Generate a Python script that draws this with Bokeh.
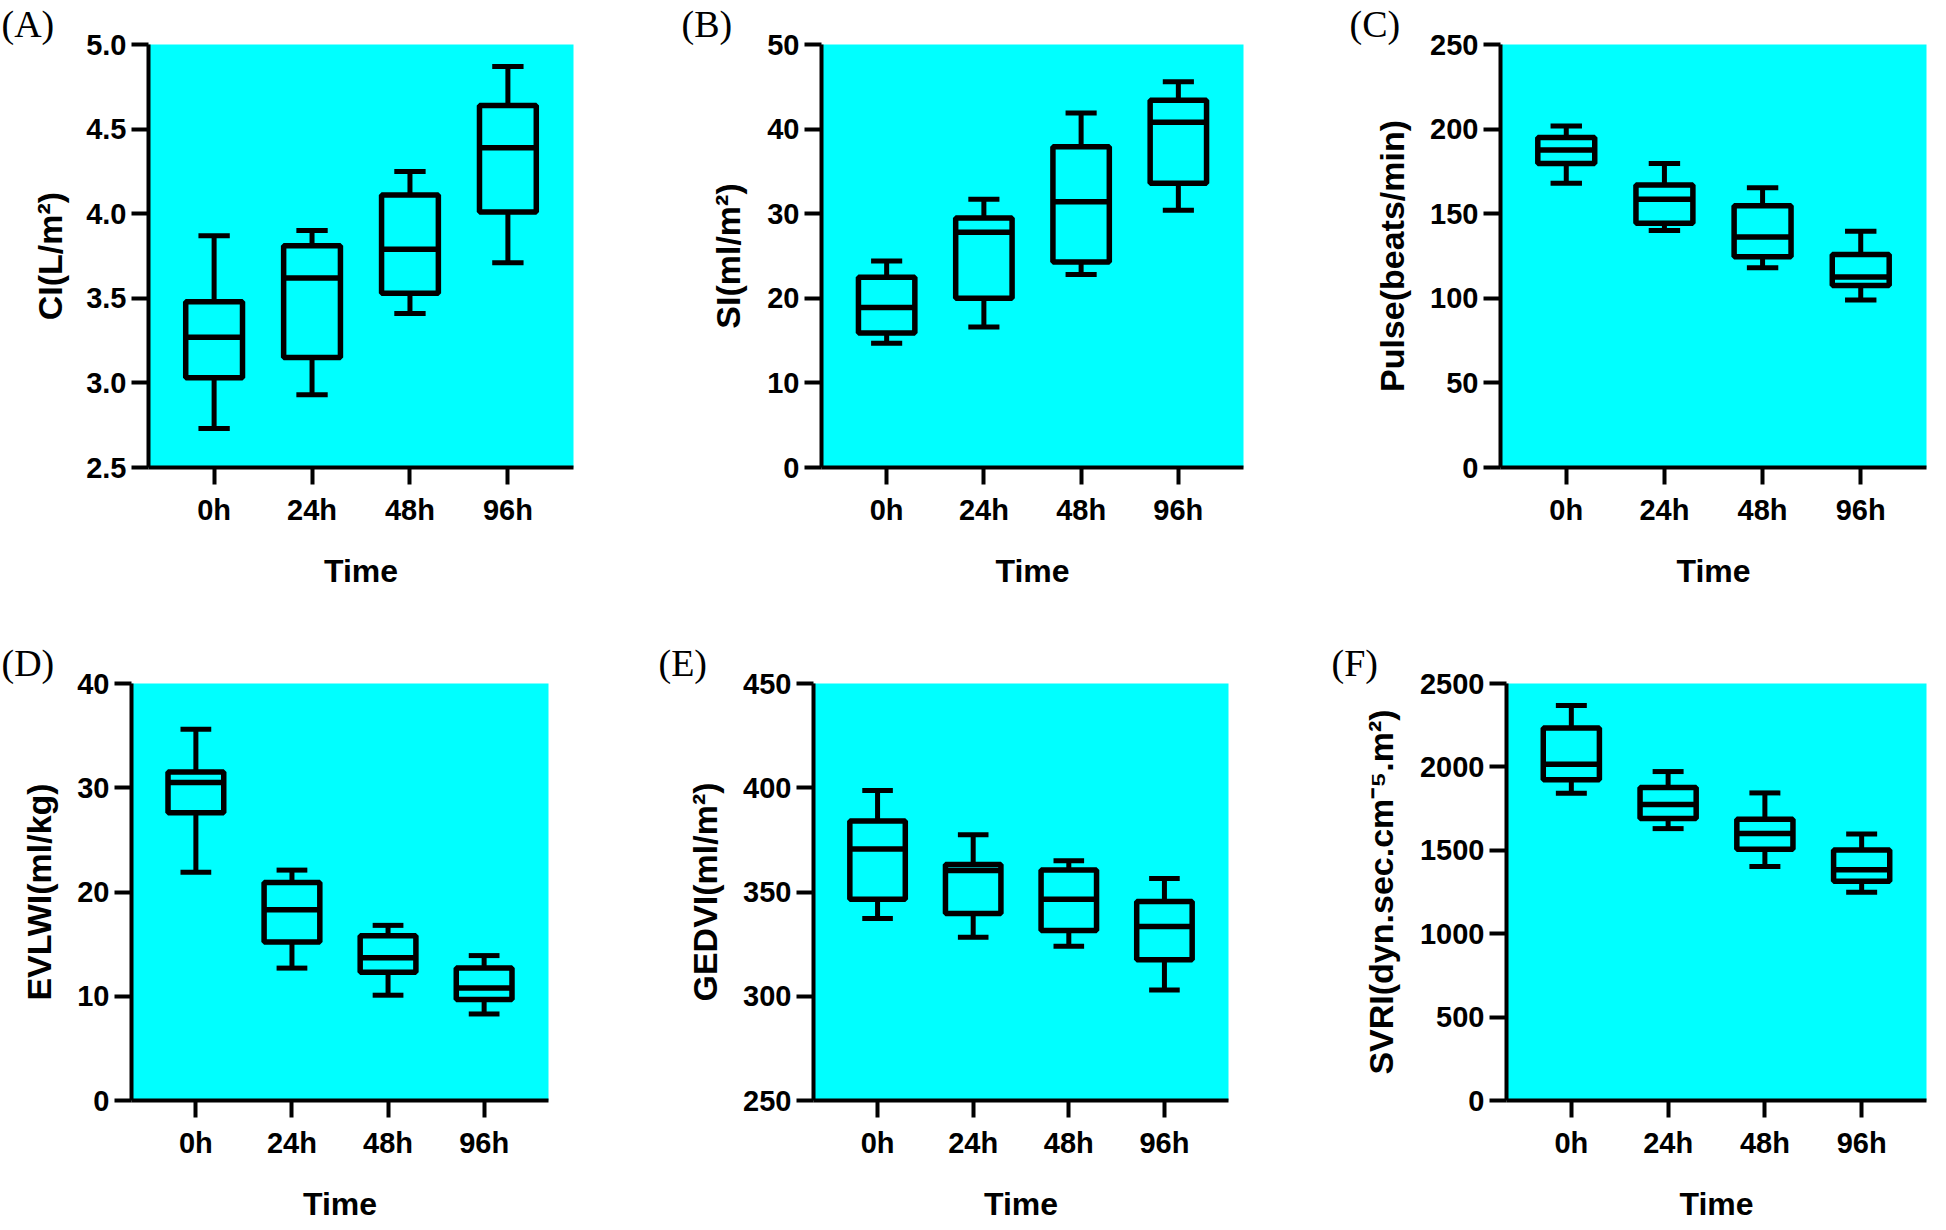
from bokeh.plotting import figure
from bokeh.models import ColumnDataSource, FactorRange, Range1d, FixedTicker, Title, NumeralTickFormatter
from bokeh.layouts import column, row
from bokeh.transform import dodge
from bokeh.embed import file_html
from bokeh.resources import INLINE

# ---------------- data ----------------
times = ["0h", "24h", "48h", "96h"]

ci_lower = [2.73, 2.93, 3.41, 3.71]
ci_q1 = [3.03, 3.15, 3.53, 4.01]
ci_median = [3.27, 3.62, 3.79, 4.39]
ci_q3 = [3.48, 3.81, 4.11, 4.64]
ci_upper = [3.87, 3.90, 4.25, 4.87]

si_lower = [14.7, 16.6, 22.8, 30.4]
si_q1 = [15.9, 20.0, 24.3, 33.6]
si_median = [18.9, 27.8, 31.4, 40.8]
si_q3 = [22.5, 29.5, 37.9, 43.4]
si_upper = [24.4, 31.7, 41.9, 45.6]

pulse_lower = [168, 140, 118, 99]
pulse_q1 = [179.6, 144.4, 124.5, 107.6]
pulse_median = [187.7, 158.6, 136.2, 112.6]
pulse_q3 = [195.1, 166.9, 154.7, 125.9]
pulse_upper = [201.8, 179.6, 165.4, 139.7]

evlwi_lower = [21.9, 12.7, 10.1, 8.3]
evlwi_q1 = [27.6, 15.2, 12.3, 9.7]
evlwi_median = [30.5, 18.3, 13.7, 10.8]
evlwi_q3 = [31.5, 20.9, 15.8, 12.7]
evlwi_upper = [35.6, 22.1, 16.8, 13.9]

gedvi_lower = [337.3, 328.3, 324.0, 303.0]
gedvi_q1 = [346.5, 339.7, 331.5, 317.5]
gedvi_median = [370.6, 360.3, 346.5, 333.5]
gedvi_q3 = [384.1, 363.2, 360.6, 345.5]
gedvi_upper = [398.7, 377.5, 365.0, 356.5]

svri_lower = [1842, 1630, 1403, 1249]
svri_q1 = [1923, 1690, 1506, 1314]
svri_median = [2016, 1775, 1601, 1383]
svri_q3 = [2233, 1877, 1686, 1502]
svri_upper = [2368, 1972, 1844, 1597]

ci_ticks = [2.5, 3.0, 3.5, 4.0, 4.5, 5.0]
si_ticks = [0, 10, 20, 30, 40, 50]
pulse_ticks = [0, 50, 100, 150, 200, 250]
evlwi_ticks = [0, 10, 20, 30, 40]
gedvi_ticks = [250, 300, 350, 400, 450]
svri_ticks = [0, 500, 1000, 1500, 2000, 2500]

# ---------------- layout (reference pixel coords, scaled to fit) ----------------
SX = 1930 / 1946
SY = 1214 / 1230


def sx(v):
    return int(round(v * SX))


def sy(v):
    return int(round(v * SY))


CYAN = "#00FFFF"
SANS = "Liberation Sans"
SERIF = "Liberation Serif"
PAD = 0.17  # categorical range padding (units of one category)


def make_panel(letter, ylabel, y0, y1, yticks, fmt, data, fig_x, frame_x, row_y, frame_y,
               letter_x, ylabel_standoff):
    lower, q1, med, q3, upper = data
    fig_left, fig_right = fig_x
    fr_left, fr_right = frame_x
    row_top, row_bot = row_y
    fr_top, fr_bot = frame_y

    fw = sx(fr_right) - sx(fr_left)
    fh = sy(fr_bot) - sy(fr_top)

    p = figure(
        x_range=FactorRange(factors=times, range_padding=PAD, range_padding_units="absolute"),
        y_range=Range1d(y0, y1),
        frame_width=fw,
        frame_height=fh,
        min_border_left=sx(fr_left) - sx(fig_left),
        min_border_right=sx(fig_right) - sx(fr_right),
        min_border_top=sy(fr_top) - sy(row_top),
        min_border_bottom=sy(row_bot) - sy(fr_bot),
        output_backend="svg",
        toolbar_location=None,
        title=None,
    )
    p.background_fill_color = CYAN
    p.border_fill_color = "white"
    p.outline_line_color = None
    p.xgrid.visible = False
    p.ygrid.visible = False

    # panel letter as the plot title, shifted left of the frame
    p.title = Title(text=letter, align="left", offset=sx(letter_x) - sx(fr_left), standoff=0,
                    text_font=SERIF, text_font_size="38px", text_font_style="normal",
                    text_color="black")

    for ax in (p.xaxis[0], p.yaxis[0]):
        ax.axis_line_width = 4
        ax.axis_line_color = "black"
        ax.major_tick_line_width = 4
        ax.major_tick_line_color = "black"
        ax.major_tick_in = 0
        ax.major_tick_out = 17
        ax.minor_tick_line_color = None
        ax.major_label_text_font = SANS
        ax.major_label_text_font_style = "bold"
        ax.major_label_text_font_size = "29px"
        ax.major_label_text_color = "black"
        ax.axis_label_text_font = SANS
        ax.axis_label_text_font_style = "bold"
        ax.axis_label_text_color = "black"

    p.xaxis.axis_label = "Time"
    p.xaxis.axis_label_text_font_size = "32px"
    p.xaxis.major_label_standoff = 9
    p.xaxis.axis_label_standoff = 24

    p.yaxis.axis_label = ylabel
    p.yaxis.axis_label_text_font_size = "34px"
    p.yaxis.major_label_standoff = 5
    p.yaxis.axis_label_standoff = ylabel_standoff
    p.yaxis.ticker = FixedTicker(ticks=yticks)
    p.yaxis.formatter = NumeralTickFormatter(format=fmt)

    src = ColumnDataSource(dict(time=times, lower=lower, q1=q1, median=med, q3=q3, upper=upper))

    lw = 5.5
    # whisker stems
    p.segment(x0="time", x1="time", y0="q3", y1="upper", line_width=5, line_color="black", source=src)
    p.segment(x0="time", x1="time", y0="q1", y1="lower", line_width=5, line_color="black", source=src)
    # whisker caps
    p.segment(x0=dodge("time", -0.16, range=p.x_range), x1=dodge("time", 0.16, range=p.x_range),
              y0="upper", y1="upper", line_width=5, line_color="black", source=src)
    p.segment(x0=dodge("time", -0.16, range=p.x_range), x1=dodge("time", 0.16, range=p.x_range),
              y0="lower", y1="lower", line_width=5, line_color="black", source=src)
    # boxes
    p.vbar(x="time", width=0.58, bottom="q1", top="q3", fill_color=CYAN,
           line_color="black", line_width=lw, source=src)
    # medians
    p.segment(x0=dodge("time", -0.29, range=p.x_range), x1=dodge("time", 0.29, range=p.x_range),
              y0="median", y1="median", line_width=lw, line_color="black", source=src)
    return p


ROW1 = (0, 620)
ROW2 = (620, 1230)
F1 = (43, 471)
F2 = (690, 1112)

pA = make_panel("(A)", "CI(L/m²)", 2.5, 5.0, ci_ticks, "0.0",
                (ci_lower, ci_q1, ci_median, ci_q3, ci_upper),
                (0, 675), (149, 578), ROW1, F1, 1, 14)
pB = make_panel("(B)", "SI(ml/m²)", 0, 50, si_ticks, "0",
                (si_lower, si_q1, si_median, si_q3, si_upper),
                (675, 1345), (828, 1253), ROW1, F1, 687, 17)
pC = make_panel("(C)", "Pulse(beats/min)", 0, 250, pulse_ticks, "0",
                (pulse_lower, pulse_q1, pulse_median, pulse_q3, pulse_upper),
                (1345, 1946), (1512, 1942), ROW1, F1, 1360, 16)
pD = make_panel("(D)", "EVLWI(ml/kg)", 0, 40, evlwi_ticks, "0",
                (evlwi_lower, evlwi_q1, evlwi_median, evlwi_q3, evlwi_upper),
                (0, 650), (132, 553), ROW2, F2, 1, 16)
pE = make_panel("(E)", "GEDVI(ml/m²)", 250, 450, gedvi_ticks, "0",
                (gedvi_lower, gedvi_q1, gedvi_median, gedvi_q3, gedvi_upper),
                (650, 1330), (820, 1238), ROW2, F2, 663, 16)
pF = make_panel("(F)", "SVRI(dyn.sec.cm⁻⁵.m²)", 0, 2500, svri_ticks, "0",
                (svri_lower, svri_q1, svri_median, svri_q3, svri_upper),
                (1330, 1946), (1518, 1942), ROW2, F2, 1342, 17)

layout = column(row(pA, pB, pC), row(pD, pE, pF))

open("out.html", "w").write(file_html(layout, INLINE))
